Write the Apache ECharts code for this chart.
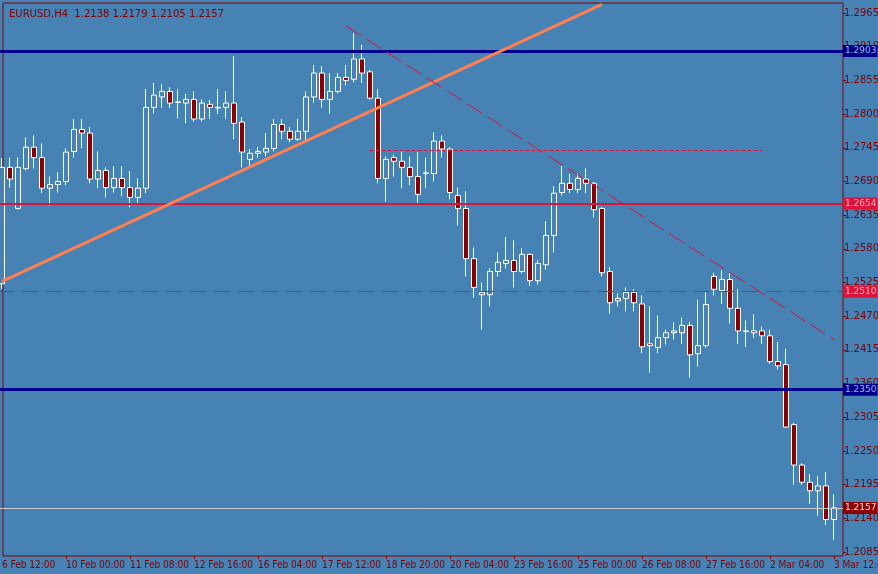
<!DOCTYPE html>
<html><head><meta charset="utf-8">
<script src="https://cdn.jsdelivr.net/npm/echarts@6/dist/echarts.min.js"></script>
<style>html,body{margin:0;padding:0;background:#4682B4}#c{width:878px;height:574px}</style>
</head><body><div id="c"></div>
<script>
const timeLabels=['6 Feb 12:00','10 Feb 00:00','11 Feb 08:00','12 Feb 16:00','16 Feb 04:00','17 Feb 12:00','18 Feb 20:00','20 Feb 04:00','23 Feb 16:00','25 Feb 00:00','26 Feb 08:00','27 Feb 16:00','2 Mar 04:00','3 Mar 12:00'];
const priceTicks=[1.2965,1.2910,1.2855,1.2800,1.2745,1.2690,1.2635,1.2580,1.2525,1.2470,1.2415,1.2360,1.2305,1.2250,1.2195,1.2140,1.2085];
// [open, close, low, high]
const ohlc=[
[1.2523,1.2713,1.2515,1.2728],[1.2713,1.2694,1.2680,1.2729],[1.2646,1.2713,1.2644,1.2729],[1.2711,1.2746,1.2708,1.2762],
[1.2746,1.2729,1.2711,1.2765],[1.2729,1.2679,1.2671,1.2752],[1.2679,1.2685,1.2651,1.2698],[1.2685,1.2690,1.2672,1.2705],
[1.2690,1.2738,1.2684,1.2744],[1.2739,1.2775,1.2729,1.2792],[1.2775,1.2769,1.2744,1.2792],[1.2769,1.2694,1.2687,1.2779],
[1.2694,1.2708,1.2679,1.2739],[1.2708,1.2680,1.2664,1.2713],[1.2680,1.2695,1.2672,1.2715],[1.2695,1.2680,1.2666,1.2715],
[1.2680,1.2664,1.2648,1.2707],[1.2664,1.2679,1.2654,1.2695],[1.2679,1.2811,1.2671,1.2841],[1.2811,1.2831,1.2801,1.2851],
[1.2828,1.2837,1.2810,1.2849],[1.2837,1.2818,1.2810,1.2844],[1.2820,1.2819,1.2793,1.2841],[1.2818,1.2824,1.2785,1.2833],
[1.2824,1.2792,1.2788,1.2837],[1.2792,1.2818,1.2788,1.2824],[1.2816,1.2811,1.2792,1.2823],[1.2811,1.2810,1.2800,1.2841],
[1.2811,1.2818,1.2792,1.2837],[1.2818,1.2785,1.2759,1.2895],[1.2787,1.2738,1.2713,1.2795],[1.2726,1.2736,1.2715,1.2743],
[1.2736,1.2739,1.2729,1.2746],[1.2738,1.2744,1.2731,1.2769],[1.2744,1.2783,1.2739,1.2792],[1.2783,1.2772,1.2759,1.2792],
[1.2772,1.2759,1.2754,1.2779],[1.2759,1.2772,1.2756,1.2792],[1.2772,1.2828,1.2757,1.2837],[1.2828,1.2867,1.2818,1.2880],
[1.2867,1.2824,1.2811,1.2878],[1.2824,1.2837,1.2801,1.2867],[1.2837,1.2860,1.2834,1.2867],[1.2860,1.2855,1.2847,1.2880],
[1.2857,1.2890,1.2852,1.2932],[1.2890,1.2867,1.2851,1.2913],[1.2869,1.2826,1.2824,1.2872],[1.2826,1.2695,1.2687,1.2841],
[1.2695,1.2726,1.2657,1.2731],[1.2729,1.2723,1.2698,1.2734],[1.2723,1.2713,1.2679,1.2739],[1.2713,1.2698,1.2684,1.2731],
[1.2698,1.2669,1.2654,1.2738],[1.2704,1.2703,1.2679,1.2729],[1.2703,1.2756,1.2690,1.2770],[1.2756,1.2743,1.2729,1.2765],
[1.2743,1.2672,1.2661,1.2746],[1.2667,1.2646,1.2618,1.2680],[1.2646,1.2564,1.2535,1.2674],[1.2564,1.2517,1.2500,1.2582],
[1.2505,1.2509,1.2448,1.2525],[1.2505,1.2543,1.2486,1.2548],[1.2543,1.2558,1.2535,1.2574],[1.2556,1.2561,1.2548,1.2599],
[1.2561,1.2543,1.2517,1.2594],[1.2543,1.2571,1.2540,1.2581],[1.2571,1.2528,1.2520,1.2572],[1.2528,1.2556,1.2522,1.2561],
[1.2554,1.2602,1.2546,1.2625],[1.2602,1.2671,1.2574,1.2682],[1.2672,1.2687,1.2667,1.2715],[1.2687,1.2677,1.2671,1.2702],
[1.2677,1.2695,1.2671,1.2703],[1.2694,1.2687,1.2671,1.2711],[1.2687,1.2644,1.2631,1.2689],[1.2646,1.2541,1.2535,1.2648],
[1.2543,1.2492,1.2474,1.2550],[1.2495,1.2499,1.2486,1.2507],[1.2499,1.2509,1.2478,1.2517],[1.2509,1.2492,1.2478,1.2514],
[1.2490,1.2420,1.2410,1.2504],[1.2425,1.2422,1.2378,1.2486],[1.2419,1.2435,1.2410,1.2471],[1.2435,1.2443,1.2424,1.2448],
[1.2443,1.2446,1.2432,1.2460],[1.2443,1.2455,1.2425,1.2468],[1.2455,1.2407,1.2370,1.2461],[1.2409,1.2422,1.2388,1.2497],
[1.2422,1.2489,1.2419,1.2509],[1.2535,1.2514,1.2504,1.2541],[1.2512,1.2530,1.2490,1.2545],[1.2530,1.2483,1.2458,1.2540],
[1.2483,1.2446,1.2425,1.2514],[1.2446,1.2445,1.2420,1.2463],[1.2446,1.2443,1.2435,1.2473],[1.2446,1.2438,1.2425,1.2453],
[1.2438,1.2396,1.2392,1.2448],[1.2396,1.2389,1.2383,1.2428],[1.2391,1.2289,1.2288,1.2417],[1.2293,1.2227,1.2195,1.2296],
[1.2227,1.2199,1.2195,1.2230],[1.2199,1.2185,1.2164,1.2212],[1.2185,1.2193,1.2144,1.2209],[1.2193,1.2138,1.2129,1.2216],
[1.2138,1.2157,1.2105,1.2179]
];
const levels={navyTop:1.2903,redMid:1.2654,dashed:1.2510,navyLow:1.2350,bid:1.2157,dotted:1.2741};
const trendUp=[[0,1.2527],[75,1.2979]];
const trendDown=[[43,1.2944],[104,1.2432]];
const dottedSpan=[46,95];

const cats=[];for(let i=0;i<106;i++){cats.push(i%8===0&&i/8<timeLabels.length?timeLabels[i/8]:'c'+i);}
const YMIN=1.20785,YMAX=1.29814;
const maroon='#800000';
const font='"DejaVu Sans Condensed","Liberation Sans Narrow",sans-serif';
function tag(bg,fg){return {show:true,position:'end',formatter:p=>Number(p.value).toFixed(4),backgroundColor:bg,color:fg,fontSize:9,fontFamily:'DejaVu Sans',padding:[2,1,1,2],distance:-3};}
const chart=echarts.init(document.getElementById('c'));
chart.setOption({
 backgroundColor:'#4682B4',animation:false,
 title:{text:'EURUSD,H4  1.2138 1.2179 1.2105 1.2157',left:4,top:4,textStyle:{fontSize:10,color:maroon,fontWeight:'normal',fontFamily:'DejaVu Sans'}},
 grid:[{left:-2,width:848,top:3,bottom:18,show:false,outerBoundsMode:'none',containLabel:false},
       {left:3,right:35,top:3,bottom:18,show:true,borderColor:maroon,borderWidth:1,backgroundColor:'transparent',outerBoundsMode:'none',containLabel:false}],
 xAxis:[{type:'category',data:cats,gridIndex:0,boundaryGap:true,axisLine:{show:false},
   axisTick:{show:true,alignWithLabel:true,interval:i=>i%8===0&&i>0&&i<=104,length:3,lineStyle:{color:maroon}},
   axisLabel:{interval:i=>i%8===0&&i<=104,formatter:v=>v.startsWith('c')?'':v,align:'left',color:maroon,fontSize:10,fontFamily:font,margin:4,hideOverlap:false}},
  {type:'category',gridIndex:1,data:['a'],show:false}],
 yAxis:[{type:'value',gridIndex:0,min:YMIN,max:YMAX,show:false},
  {type:'value',gridIndex:1,min:YMIN,max:YMAX,position:'right',splitLine:{show:false},axisLine:{show:false},
   axisTick:{show:true,length:3,customValues:priceTicks,lineStyle:{color:maroon}},
   axisLabel:{customValues:priceTicks,formatter:v=>v.toFixed(4),color:maroon,fontSize:10,fontFamily:'DejaVu Sans',margin:1}}],
 series:[{type:'candlestick',xAxisIndex:0,yAxisIndex:0,data:ohlc,barWidth:5,
  itemStyle:{color:'#4682B4',color0:'#8B0000',borderColor:'#ffffff',borderColor0:'#ffffff',borderWidth:1},
  markLine:{silent:true,symbol:'none',animation:false,precision:4,data:[
   {yAxis:levels.navyTop,lineStyle:{color:'#00008B',width:3,type:'solid'},label:tag('#00008B','#9DB8E8')},
   {yAxis:levels.redMid,lineStyle:{color:'#DC143C',width:2,type:'solid'},label:tag('#DC143C','#F4B0BC')},
   {yAxis:levels.dashed,lineStyle:{color:'#DC143C',width:1,type:[16,8]},label:tag('#DC143C','#F4B0BC')},
   {yAxis:levels.navyLow,lineStyle:{color:'#00008B',width:3,type:'solid'},label:tag('#00008B','#9DB8E8')},
   {yAxis:levels.bid,lineStyle:{color:'#C8C8C8',width:1,type:'solid'},label:tag('#8B0000','#F0E0E0')},
   [{coord:trendUp[0]},{coord:trendUp[1]}].map(o=>Object.assign(o,{lineStyle:{color:'#FF7F50',width:3,type:'solid'},label:{show:false}})),
   [{coord:trendDown[0]},{coord:trendDown[1]}].map(o=>Object.assign(o,{lineStyle:{color:'#DC143C',width:1,type:[18,6]},label:{show:false}})),
   [{coord:[dottedSpan[0],levels.dotted]},{coord:[dottedSpan[1],levels.dotted]}].map(o=>Object.assign(o,{lineStyle:{color:'#DC143C',width:1,type:[3,3]},label:{show:false}}))
  ]}}]
});
</script></body></html>
